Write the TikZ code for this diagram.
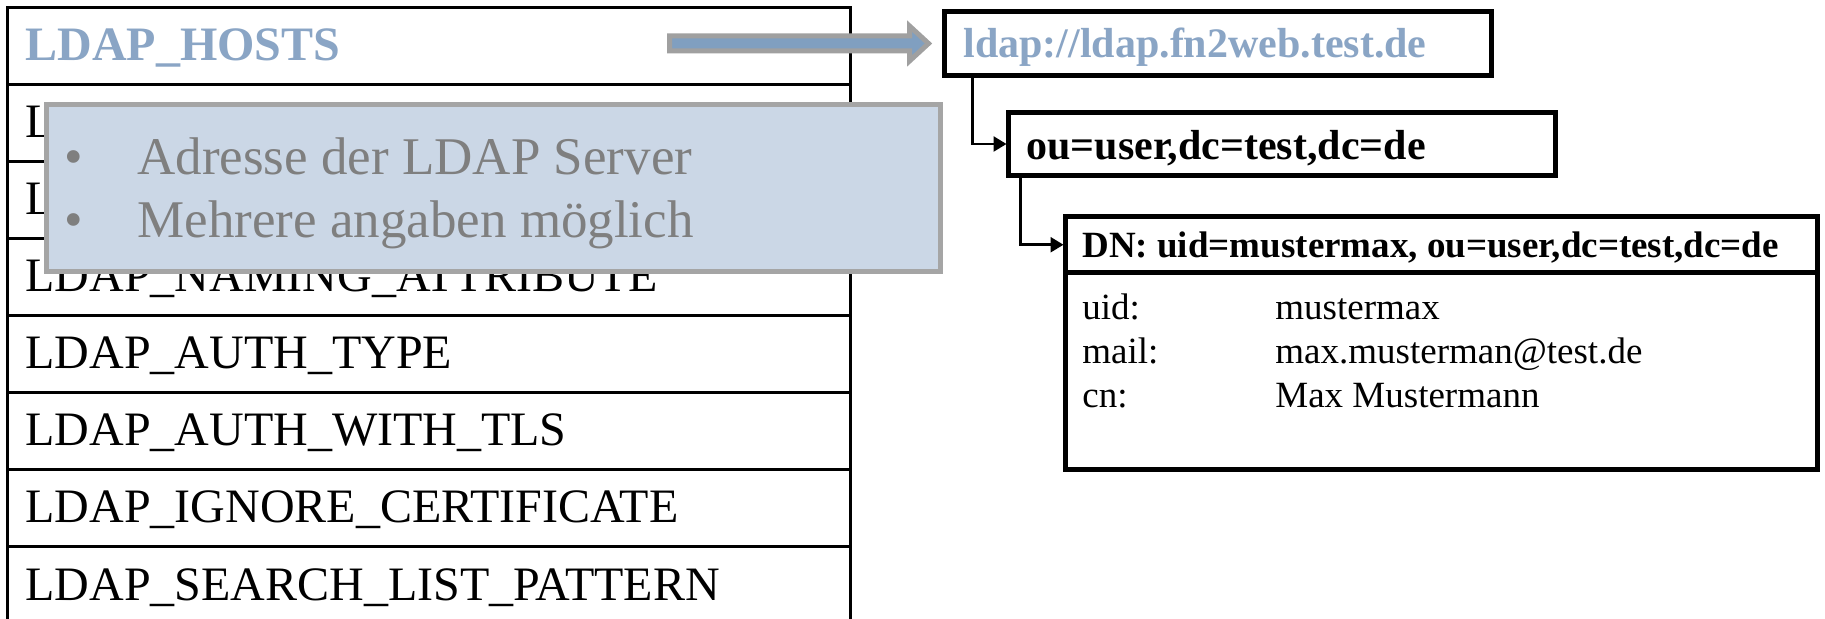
\documentclass[tikz,border=0pt]{standalone}
\usepackage{fontspec}
\setmainfont{Liberation Serif}
\usetikzlibrary{arrows.meta}
\definecolor{hostblue}{HTML}{8AA5C5}
\definecolor{arrfill}{HTML}{809FC0}
\definecolor{arrgray}{HTML}{A0A0A0}
\definecolor{infofill}{HTML}{CBD7E6}
\definecolor{infogray}{HTML}{A5A5A5}
\definecolor{infotext}{HTML}{7F7F7F}
\begin{document}
\begin{tikzpicture}[x=0.5pt,y=-0.5pt,
  row/.style={draw=black, line width=1.5pt, minimum width=421.5pt, minimum height=38.5pt, anchor=north west, inner sep=0pt, outer sep=0pt},
  rowtext/.style={anchor=base west, inner sep=0pt, font=\fontsize{24}{28}\selectfont},
  hosttext/.style={anchor=base west, inner sep=0pt, text=hostblue, font=\fontsize{24}{28}\selectfont\bfseries},
  infobox/.style={draw=infogray, fill=infofill, line width=2.5pt, minimum width=447pt, minimum height=83.5pt, anchor=north west, inner sep=0pt, outer sep=0pt},
  infoline/.style={anchor=base west, inner sep=0pt, text=infotext, font=\fontsize{26.5}{30}\selectfont},
  bigarrow/.style={draw=arrgray, fill=arrfill, line width=2.5pt, line join=miter},
  box/.style={draw=black, line width=2.5pt, anchor=north west, inner sep=0pt, outer sep=0pt},
  boldtext/.style={anchor=base west, inner sep=0pt, font=\fontsize{21}{25}\selectfont\bfseries},
  dnbold/.style={anchor=base west, inner sep=0pt, font=\fontsize{18.5}{22}\selectfont\bfseries},
  dntext/.style={anchor=base west, inner sep=0pt, font=\fontsize{18.5}{22}\selectfont},
  conn/.style={draw=black, line width=1.25pt, -{Triangle[length=6.5pt,width=7.5pt]}, shorten >=1pt}
]
\useasboundingbox (0,0) rectangle (1825,619);
\fill[white] (0,0) rectangle (1825,619);

% left table
\foreach \i in {0,...,7} {
  \node[row] (r\i) at (7.5,{7.5+77*\i}) {};
}
\node[hosttext] (t0) at (25,61) {LDAP\_HOSTS};
\node[rowtext] (t1) at (25,138) {L};
\node[rowtext] (t2) at (25,215) {L};
\node[rowtext] (t3) at (25,292) {LDAP\_NAMING\_ATTRIBUTE};
\node[rowtext] (t4) at (25,369) {LDAP\_AUTH\_TYPE};
\node[rowtext] (t5) at (25,446) {LDAP\_AUTH\_WITH\_TLS};
\node[rowtext] (t6) at (25,523) {LDAP\_IGNORE\_CERTIFICATE};
\node[rowtext] (t7) at (25,600) {LDAP\_SEARCH\_LIST\_PATTERN};

% info box
\node[infobox] (info) at (46.5,104.5) {};
\node[infoline] (b1) at (64,175) {•};
\node[infoline] (l1) at (137,175) {Adresse der LDAP Server};
\node[infoline] (b2) at (64,238) {•};
\node[infoline] (l2) at (137,238) {Mehrere angaben möglich};

% right side boxes
\node[box, minimum width=273.5pt, minimum height=32pt] (ldap) at (944.5,11.5) {};
\node[boldtext, text=hostblue] (ldaptxt) at (963,58) {ldap://ldap.fn2web.test.de};
\node[box, minimum width=273.5pt, minimum height=31.5pt] (ou) at (1008.5,112.5) {};
\node[boldtext] (outxt) at (1026,160) {ou=user,dc=test,dc=de};
\node[box, minimum width=376pt, minimum height=28.25pt] (dnhead) at (1065.5,216.5) {};
\node[box, minimum width=376pt, minimum height=98.25pt] (dnbody) at (1065.5,273) {};
\node[dnbold] (dntxt) at (1082,258) {DN: uid=mustermax, ou=user,dc=test,dc=de};
\node[dntext] (k1) at (1082,320) {uid:};
\node[dntext] (v1) at (1275,320) {mustermax};
\node[dntext] (k2) at (1082,364) {mail:};
\node[dntext] (v2) at (1275,364) {max.musterman@test.de};
\node[dntext] (k3) at (1082,408) {cn:};
\node[dntext] (v3) at (1275,408) {Max Mustermann};

% big arrow from LDAP_HOSTS to ldap box
\coordinate (tip) at ([xshift=-8pt]ldap.west);
\coordinate (hs) at ([xshift=-129.5pt]tip);
\draw[bigarrow] ([shift={(0,-7.5)}]hs) -- ([shift={(-19,-7.5)}]tip) -- ([shift={(-19,-17.5)}]tip) -- (tip)
  -- ([shift={(-19,17.5)}]tip) -- ([shift={(-19,7.5)}]tip) -- ([shift={(0,7.5)}]hs) -- cycle;

% connectors
\draw[conn] ([xshift=14pt]ldap.south west) |- (ou.west);
\draw[conn] ([xshift=6pt]ou.south west) |- (dnhead.west);
\end{tikzpicture}
\end{document}
